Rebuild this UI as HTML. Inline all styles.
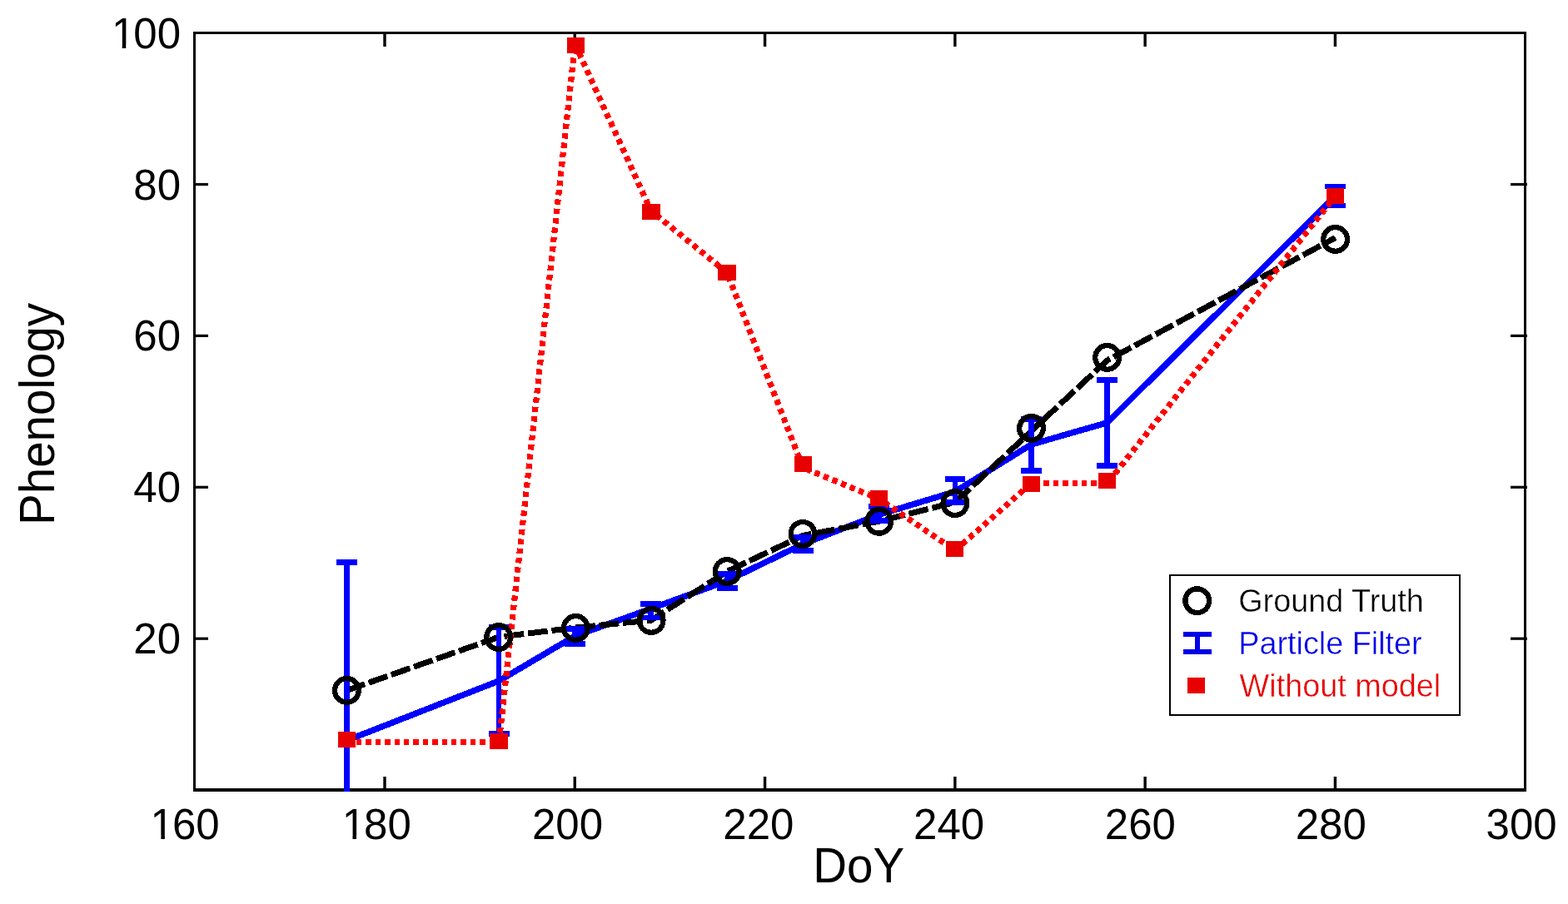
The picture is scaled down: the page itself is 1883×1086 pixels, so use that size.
<!DOCTYPE html>
<html lang="en"><head><meta charset="utf-8"><title>Phenology vs DoY</title>
<style>html,body{margin:0;padding:0;background:#fff}body{width:1883px;height:1086px;overflow:hidden}svg{display:block}text{font-family:"Liberation Sans",sans-serif}</style></head><body>
<svg width="1883" height="1086" viewBox="0 0 1883 1086">
<rect x="0" y="0" width="1883" height="1086" fill="#fff"/>
<defs><clipPath id="ax"><rect x="232" y="38" width="1601" height="913"/></clipPath></defs>
<g fill="#000" shape-rendering="crispEdges">
<rect x="232" y="38" width="1601" height="3"/>
<rect x="232" y="947" width="1601" height="4"/>
<rect x="232" y="38" width="3" height="913"/>
<rect x="1830" y="38" width="3" height="913"/>
</g>
<g fill="#000">
<rect x="460.29" y="933" width="3.4" height="16"/>
<rect x="460.29" y="40" width="3.4" height="16"/>
<rect x="688.57" y="933" width="3.4" height="16"/>
<rect x="688.57" y="40" width="3.4" height="16"/>
<rect x="916.86" y="933" width="3.4" height="16"/>
<rect x="916.86" y="40" width="3.4" height="16"/>
<rect x="1145.14" y="933" width="3.4" height="16"/>
<rect x="1145.14" y="40" width="3.4" height="16"/>
<rect x="1373.43" y="933" width="3.4" height="16"/>
<rect x="1373.43" y="40" width="3.4" height="16"/>
<rect x="1601.71" y="933" width="3.4" height="16"/>
<rect x="1601.71" y="40" width="3.4" height="16"/>
<rect x="234" y="765.60" width="16" height="3.2"/>
<rect x="1814" y="765.60" width="20" height="3.2"/>
<rect x="234" y="583.70" width="16" height="3.2"/>
<rect x="1814" y="583.70" width="20" height="3.2"/>
<rect x="234" y="401.80" width="16" height="3.2"/>
<rect x="1814" y="401.80" width="20" height="3.2"/>
<rect x="234" y="219.90" width="16" height="3.2"/>
<rect x="1814" y="219.90" width="20" height="3.2"/>
</g>
<text transform="translate(178.55,1007.6) scale(1,1.020)" dx="2.0 -2.0" font-size="51.0px" fill="#000">160</text>
<rect x="183.44" y="1003.51" width="9.94" height="5.09" fill="#fff"/>
<rect x="197.89" y="1003.51" width="9.54" height="5.09" fill="#fff"/>
<text transform="translate(408.65,1007.6) scale(1,1.020)" dx="2.0 -2.0" font-size="51.0px" fill="#000">180</text>
<rect x="413.54" y="1003.51" width="9.94" height="5.09" fill="#fff"/>
<rect x="427.99" y="1003.51" width="9.54" height="5.09" fill="#fff"/>
<text transform="translate(638.95,1007.6) scale(1,1.020)" font-size="51.0px" fill="#000">200</text>
<text transform="translate(868.35,1007.6) scale(1,1.020)" font-size="51.0px" fill="#000">220</text>
<text transform="translate(1097.05,1007.6) scale(1,1.020)" font-size="51.0px" fill="#000">240</text>
<text transform="translate(1326.85,1007.6) scale(1,1.020)" font-size="51.0px" fill="#000">260</text>
<text transform="translate(1555.75,1007.6) scale(1,1.020)" font-size="51.0px" fill="#000">280</text>
<text transform="translate(1784.55,1007.6) scale(1,1.020)" font-size="51.0px" fill="#000">300</text>
<text transform="translate(160.27,784.5) scale(1,1.020)" font-size="51.0px" fill="#000">20</text>
<text transform="translate(160.27,602.8) scale(1,1.020)" font-size="51.0px" fill="#000">40</text>
<text transform="translate(160.27,421.1) scale(1,1.020)" font-size="51.0px" fill="#000">60</text>
<text transform="translate(160.27,239.5) scale(1,1.020)" font-size="51.0px" fill="#000">80</text>
<text transform="translate(131.91,57.8) scale(1,1.020)" dx="2.0 -2.0" font-size="51.0px" fill="#000">100</text>
<rect x="136.79" y="53.71" width="9.94" height="5.09" fill="#fff"/>
<rect x="151.24" y="53.71" width="9.54" height="5.09" fill="#fff"/>
<text transform="translate(1031.2,1059.6) scale(1,1.035)" text-anchor="middle" font-size="56.5px" fill="#000">DoY</text>
<text transform="translate(65.1,497.4) rotate(-90) scale(1,1.035)" text-anchor="middle" font-size="56.5px" fill="#000">Phenology</text>
<g clip-path="url(#ax)" shape-rendering="crispEdges">
<polyline points="416.5,889.5 599.2,818.0 690.5,764.0 781.8,731.2 873.1,697.8 964.4,653.5 1055.7,618.2 1147.0,590.6 1238.4,534.0 1329.7,507.8 1603.6,235.5" stroke="#0000ff" stroke-width="7.4" fill="none" stroke-linejoin="miter"/>
<polyline points="416.5,829.4 599.2,765.2 690.5,754.1 781.8,745.1 873.1,686.5 964.4,643.3 1055.7,626.2 1147.0,603.5 1238.4,517.9 1329.7,432.9 1603.6,285.6" stroke="#000" stroke-width="7.0" fill="none" stroke-dasharray="23.9 4.8" stroke-dashoffset="0.9"/>
<g stroke="#0000ff" stroke-width="6.7" fill="none">
<path d="M416.5 675.5V1200.0M404.1 675.5H428.9M404.1 1200.0H428.9"/>
<path d="M599.1 753.4V881.3M586.7 753.4H611.5M586.7 881.3H611.5"/>
<path d="M690.4 755.3V773.7M678.0 755.3H702.8M678.0 773.7H702.8"/>
<path d="M781.7 725.4V742.0M769.3 725.4H794.1M769.3 742.0H794.1"/>
<path d="M873.1 689.2V706.4M860.7 689.2H885.5M860.7 706.4H885.5"/>
<path d="M964.4 645.5V661.5M952.0 645.5H976.8M952.0 661.5H976.8"/>
<path d="M1055.7 608.6V625.7M1043.3 608.6H1068.1M1043.3 625.7H1068.1"/>
<path d="M1147.0 575.4V603.7M1134.6 575.4H1159.4M1134.6 603.7H1159.4"/>
<path d="M1238.3 503.4V565.5M1225.9 503.4H1250.7M1225.9 565.5H1250.7"/>
<path d="M1329.6 456.2V559.5M1317.2 456.2H1342.0M1317.2 559.5H1342.0"/>
<path d="M1603.6 223.9V247.0M1591.2 223.9H1616.0M1591.2 247.0H1616.0"/>
</g>
<polyline points="416.5,891.5 599.2,891.5 690.5,53.2 781.8,253.1 873.1,327.6 964.4,561.9 1055.7,599.4 1147.0,661.2 1238.4,580.5 1329.7,580.5 1603.6,235.5" stroke="#ff0000" stroke-width="7.2" fill="none" stroke-dasharray="6.4 5"/>
<rect x="405.75" y="879.0" width="21.5" height="19" fill="#e80000"/>
<rect x="588.25" y="881.0" width="21.5" height="19" fill="#e80000"/>
<rect x="680.75" y="45.0" width="21.5" height="19" fill="#e80000"/>
<rect x="771.25" y="245.0" width="21.5" height="19" fill="#e80000"/>
<rect x="862.25" y="318.0" width="21.5" height="19" fill="#e80000"/>
<rect x="953.65" y="547.9" width="21.5" height="19" fill="#e80000"/>
<rect x="1044.95" y="588.9" width="21.5" height="19" fill="#e80000"/>
<rect x="1135.75" y="650.2" width="21.5" height="19" fill="#e80000"/>
<rect x="1227.85" y="572.0" width="21.5" height="19" fill="#e80000"/>
<rect x="1318.85" y="568.0" width="21.5" height="19" fill="#e80000"/>
<rect x="1592.75" y="226.0" width="21.5" height="19" fill="#e80000"/>
<circle cx="416.4" cy="829.4" r="14.35" stroke="#000" stroke-width="6.3" fill="none"/>
<circle cx="598.7" cy="765.5" r="14.35" stroke="#000" stroke-width="6.3" fill="none"/>
<circle cx="691.3" cy="754.4" r="14.35" stroke="#000" stroke-width="6.3" fill="none"/>
<circle cx="782.1" cy="745.4" r="14.35" stroke="#000" stroke-width="6.3" fill="none"/>
<circle cx="873.2" cy="686.5" r="14.35" stroke="#000" stroke-width="6.3" fill="none"/>
<circle cx="964.0" cy="641.4" r="14.35" stroke="#000" stroke-width="6.3" fill="none"/>
<circle cx="1055.7" cy="626.3" r="14.35" stroke="#000" stroke-width="6.3" fill="none"/>
<circle cx="1146.9" cy="604.6" r="14.35" stroke="#000" stroke-width="6.3" fill="none"/>
<circle cx="1238.5" cy="514.4" r="14.35" stroke="#000" stroke-width="6.3" fill="none"/>
<circle cx="1329.6" cy="429.4" r="14.35" stroke="#000" stroke-width="6.3" fill="none"/>
<circle cx="1603.6" cy="287.4" r="14.35" stroke="#000" stroke-width="6.3" fill="none"/>
</g>
<rect x="1405" y="691" width="348" height="168" fill="#fff" stroke="#000" stroke-width="2" shape-rendering="crispEdges"/>
<g shape-rendering="crispEdges">
<circle cx="1437.7" cy="721.7" r="14.35" stroke="#000" stroke-width="6.3" fill="none"/>
<path d="M1438.1 762V783M1420.9 762H1455.1M1420.9 783.05H1455.1" stroke="#0000e8" stroke-width="6.2" fill="none"/>
<rect x="1426" y="814" width="21" height="19" fill="#e80000"/>
</g>
<g stroke="#fff" stroke-width="0.4">
<text transform="translate(1487.2,735.2) scale(1,1.015)" text-anchor="start" font-size="37.8px" fill="#000">Ground Truth</text>
<text transform="translate(1487.2,785.6) scale(1,1.015)" text-anchor="start" font-size="37.8px" fill="#0000e8">Particle Filter</text>
<text transform="translate(1488.6,836.6) scale(1,1.015)" text-anchor="start" font-size="37.8px" fill="#e80000">Without model</text>
</g>
</svg></body></html>
